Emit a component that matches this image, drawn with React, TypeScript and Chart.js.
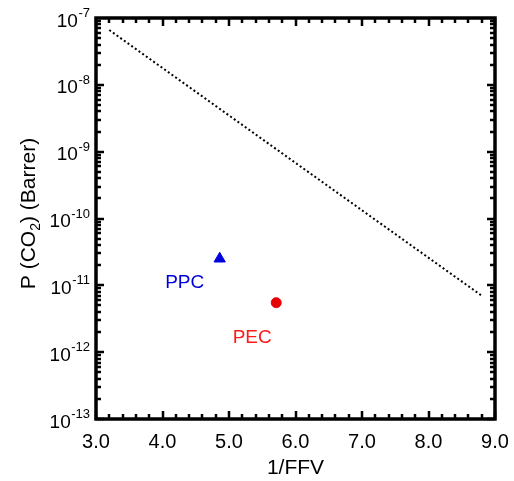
import React, { useEffect, useRef } from "react";
import { Chart, registerables } from "chart.js";

Chart.register(...registerables);

const X_MIN = 3;
const X_MAX = 9;
const Y_MIN = 1e-13;
const Y_MAX = 1e-7;

const xTickValues = [3, 4, 5, 6, 7, 8, 9];
const xTickLabels = ["3.0", "4.0", "5.0", "6.0", "7.0", "8.0", "9.0"];
const yTickExponents = [-13, -12, -11, -10, -9, -8, -7];

// Upper bound line (1/FFV, P)
const boundX = [3.2, 8.8];
const boundY = [6.6e-8, 7.0e-12];

// Polymers
const ppcPoint = { x: 4.86, y: 2.5e-11 };
const pecPoint = { x: 5.71, y: 5.5e-12 };
const pointLabels = ["PPC", "PEC"];

const FONT = "'Liberation Sans', Arial, sans-serif";

const axesPlugin = {
  id: "customAxes",
  afterDraw(chart: any) {
    const ctx = chart.ctx as CanvasRenderingContext2D;
    const { left, right, top, bottom } = chart.chartArea;
    const xs = chart.scales.x;
    const ys = chart.scales.y;
    ctx.save();
    ctx.strokeStyle = "#000";
    ctx.fillStyle = "#000";
    ctx.lineCap = "butt";

    // x ticks (major every 1, minor every 0.2)
    ctx.lineWidth = 2.5;
    for (let i = 0; i <= 30; i++) {
      const v = X_MIN + i * 0.2;
      const px = Math.round(xs.getPixelForValue(v));
      const len = i % 5 === 0 ? 8 : 5;
      ctx.beginPath();
      ctx.moveTo(px, bottom);
      ctx.lineTo(px, bottom - len);
      ctx.moveTo(px, top);
      ctx.lineTo(px, top + len);
      ctx.stroke();
    }
    // y ticks (log)
    for (let e = -13; e <= -8; e++) {
      for (let m = 1; m <= 9; m++) {
        const v = m * Math.pow(10, e);
        const py = Math.round(ys.getPixelForValue(v));
        const len = m === 1 ? 8 : 5;
        ctx.beginPath();
        ctx.moveTo(left, py);
        ctx.lineTo(left + len, py);
        ctx.moveTo(right, py);
        ctx.lineTo(right - len, py);
        ctx.stroke();
      }
    }
    // border
    ctx.lineWidth = 3.5;
    ctx.strokeRect(left, top, right - left, bottom - top);

    // x tick labels
    ctx.font = `20px ${FONT}`;
    ctx.textAlign = "center";
    ctx.textBaseline = "alphabetic";
    xTickValues.forEach((v, i) => {
      ctx.fillText(xTickLabels[i], xs.getPixelForValue(v), bottom + 29);
    });

    // y tick labels 10^e
    yTickExponents.forEach((e) => {
      const py = ys.getPixelForValue(Math.pow(10, e));
      const sup = String(e);
      ctx.font = `13px ${FONT}`;
      const supW = ctx.measureText(sup).width;
      const supLeft = left - 6 - supW;
      ctx.textAlign = "left";
      ctx.fillText(sup, supLeft, py - 1);
      ctx.font = `19px ${FONT}`;
      ctx.textAlign = "right";
      ctx.fillText("10", supLeft - 0.5, py + 8.5);
    });

    // x title
    ctx.font = `21px ${FONT}`;
    ctx.textAlign = "center";
    ctx.fillText("1/FFV", (left + right) / 2, bottom + 55);

    // y title (rotated) with subscript
    ctx.translate(35, (top + bottom) / 2 - 5);
    ctx.rotate(-Math.PI / 2);
    const big = `21px ${FONT}`;
    const small = `14px ${FONT}`;
    const p1 = "P (CO";
    const p2 = "2";
    const p3 = ") (Barrer)";
    ctx.font = big;
    const w1 = ctx.measureText(p1).width;
    const w3 = ctx.measureText(p3).width;
    ctx.font = small;
    const w2 = ctx.measureText(p2).width;
    const total = w1 + w2 + w3;
    let cx = -total / 2;
    ctx.textAlign = "left";
    ctx.font = big;
    ctx.fillText(p1, cx, 0);
    cx += w1;
    ctx.font = small;
    ctx.fillText(p2, cx, 5);
    cx += w2;
    ctx.font = big;
    ctx.fillText(p3, cx, 0);
    ctx.setTransform(1, 0, 0, 1, 0, 0);

    // point labels
    ctx.font = `19px ${FONT}`;
    ctx.textAlign = "center";
    ctx.textBaseline = "middle";
    ctx.fillStyle = "#0000dd";
    ctx.fillText(
      pointLabels[0],
      xs.getPixelForValue(ppcPoint.x) - 35,
      ys.getPixelForValue(ppcPoint.y) + 24
    );
    ctx.fillStyle = "#ff1a1a";
    ctx.fillText(
      pointLabels[1],
      xs.getPixelForValue(pecPoint.x) - 24,
      ys.getPixelForValue(pecPoint.y) + 35
    );
    ctx.restore();
  },
};

export default function App() {
  const ref = useRef<HTMLCanvasElement>(null);
  useEffect(() => {
    if (!ref.current) return;
    const chart = new Chart(ref.current, {
      type: "scatter",
      data: {
        datasets: [
          {
            label: "Upper bound",
            data: boundX.map((x, i) => ({ x, y: boundY[i] })),
            showLine: true,
            borderColor: "#000",
            borderWidth: 2,
            borderDash: [2, 2.5],
            pointRadius: 0,
            fill: false,
          },
          {
            label: "PPC",
            data: [ppcPoint],
            pointStyle: "triangle",
            pointRadius: 6.5,
            backgroundColor: "#0000dd",
            borderColor: "#0000dd",
            borderWidth: 1,
          },
          {
            label: "PEC",
            data: [pecPoint],
            pointStyle: "circle",
            pointRadius: 5,
            backgroundColor: "#e60000",
            borderColor: "#e60000",
            borderWidth: 1,
          },
        ],
      },
      options: {
        animation: false,
        responsive: false,
        maintainAspectRatio: false,
        layout: { padding: { left: 96, top: 18, right: 19, bottom: 62 } },
        plugins: { legend: { display: false }, tooltip: { enabled: false } },
        scales: {
          x: { type: "linear", min: X_MIN, max: X_MAX, display: false },
          y: { type: "logarithmic", min: Y_MIN, max: Y_MAX, display: false },
        },
      },
      plugins: [axesPlugin],
    });
    return () => chart.destroy();
  }, []);
  return (
    <div style={{ position: "fixed", left: 0, top: 0, width: 514, height: 481, background: "#fff" }}>
      <canvas ref={ref} width={514} height={481} style={{ display: "block" }} />
    </div>
  );
}
